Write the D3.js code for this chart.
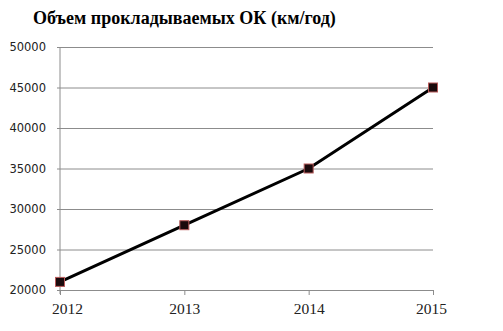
<!DOCTYPE html>
<html>
<head>
<meta charset="utf-8">
<script src="https://cdn.jsdelivr.net/npm/d3@7"></script>
<style>
  body { margin: 0; background: #fff; }
  .title { font-family: "Liberation Serif", serif; font-weight: bold; font-size: 18px; }
  .ylab text { font-family: "DejaVu Sans", sans-serif; font-size: 11.5px; fill: #222; }
  .xlab text { font-family: "Liberation Serif", serif; font-size: 15.5px; fill: #222; }
</style>
</head>
<body>
<div id="chart"></div>
<script>
const years = [2012, 2013, 2014, 2015];
const volume = [21000, 28000, 35000, 45000];
const yTicks = [20000, 25000, 30000, 35000, 40000, 45000, 50000];

const width = 503;
const height = 331;

const svg = d3.select("#chart")
    .append("svg")
    .attr("width", width)
    .attr("height", height)

svg.append("text")
    .attr("class", "title")
    .attr("x", 33)
    .attr("y", 24)
    .text("Объем прокладываемых ОК (км/год)")

const x = d3.scaleLinear()
    .domain([2012, 2015])
    .range([60, 433])

const y = d3.scaleLinear()
    .domain([20000, 50000])
    .range([290, 47])

// gridlines
const yAxis = d3.axisLeft(y)
    .tickValues(yTicks)
    .tickSize(-(433 - 60))
    .tickPadding(14)
    .tickFormat(d3.format("d"))

const gy = svg.append("g")
    .attr("class", "ylab")
    .attr("transform", "translate(60,0)")
    .call(yAxis)
gy.select(".domain").remove()
gy.selectAll("line").attr("stroke", "#8c8c8c").attr("x1", -3)

svg.append("line")
    .attr("x1", 60).attr("x2", 60)
    .attr("y1", y(50000)).attr("y2", y(20000) + 4)
    .attr("stroke", "#8c8c8c")

const xAxis = d3.axisBottom(x)
    .tickValues(years)
    .tickSize(5)
    .tickPadding(8)
    .tickFormat(d3.format("d"))

const gx = svg.append("g")
    .attr("class", "xlab")
    .attr("transform", "translate(0," + y(20000) + ")")
    .call(xAxis)
gx.select(".domain").attr("stroke", "#8c8c8c")
gx.selectAll(".tick line").attr("stroke", "#8c8c8c")
gx.selectAll(".tick text").attr("dx", (d, i) => i === 0 ? 7 : (i === 3 ? -2 : 0))

const data = years.map((yr, i) => ({ year: yr, value: volume[i] }));

const line = d3.line()
    .x(d => x(d.year))
    .y(d => y(d.value))

svg.append("path")
    .datum(data)
    .attr("d", line)
    .attr("fill", "none")
    .attr("stroke", "#000")
    .attr("stroke-width", 3)

svg.selectAll(".marker")
    .data(data)
    .enter()
    .append("rect")
    .attr("class", "marker")
    .attr("x", d => x(d.year) - 4.5)
    .attr("y", d => y(d.value) - 4.5)
    .attr("width", 9)
    .attr("height", 9)
    .attr("fill", "#1a0a0c")
    .attr("stroke", "#b85a5a")
    .attr("stroke-width", 1)
</script>
</body>
</html>
